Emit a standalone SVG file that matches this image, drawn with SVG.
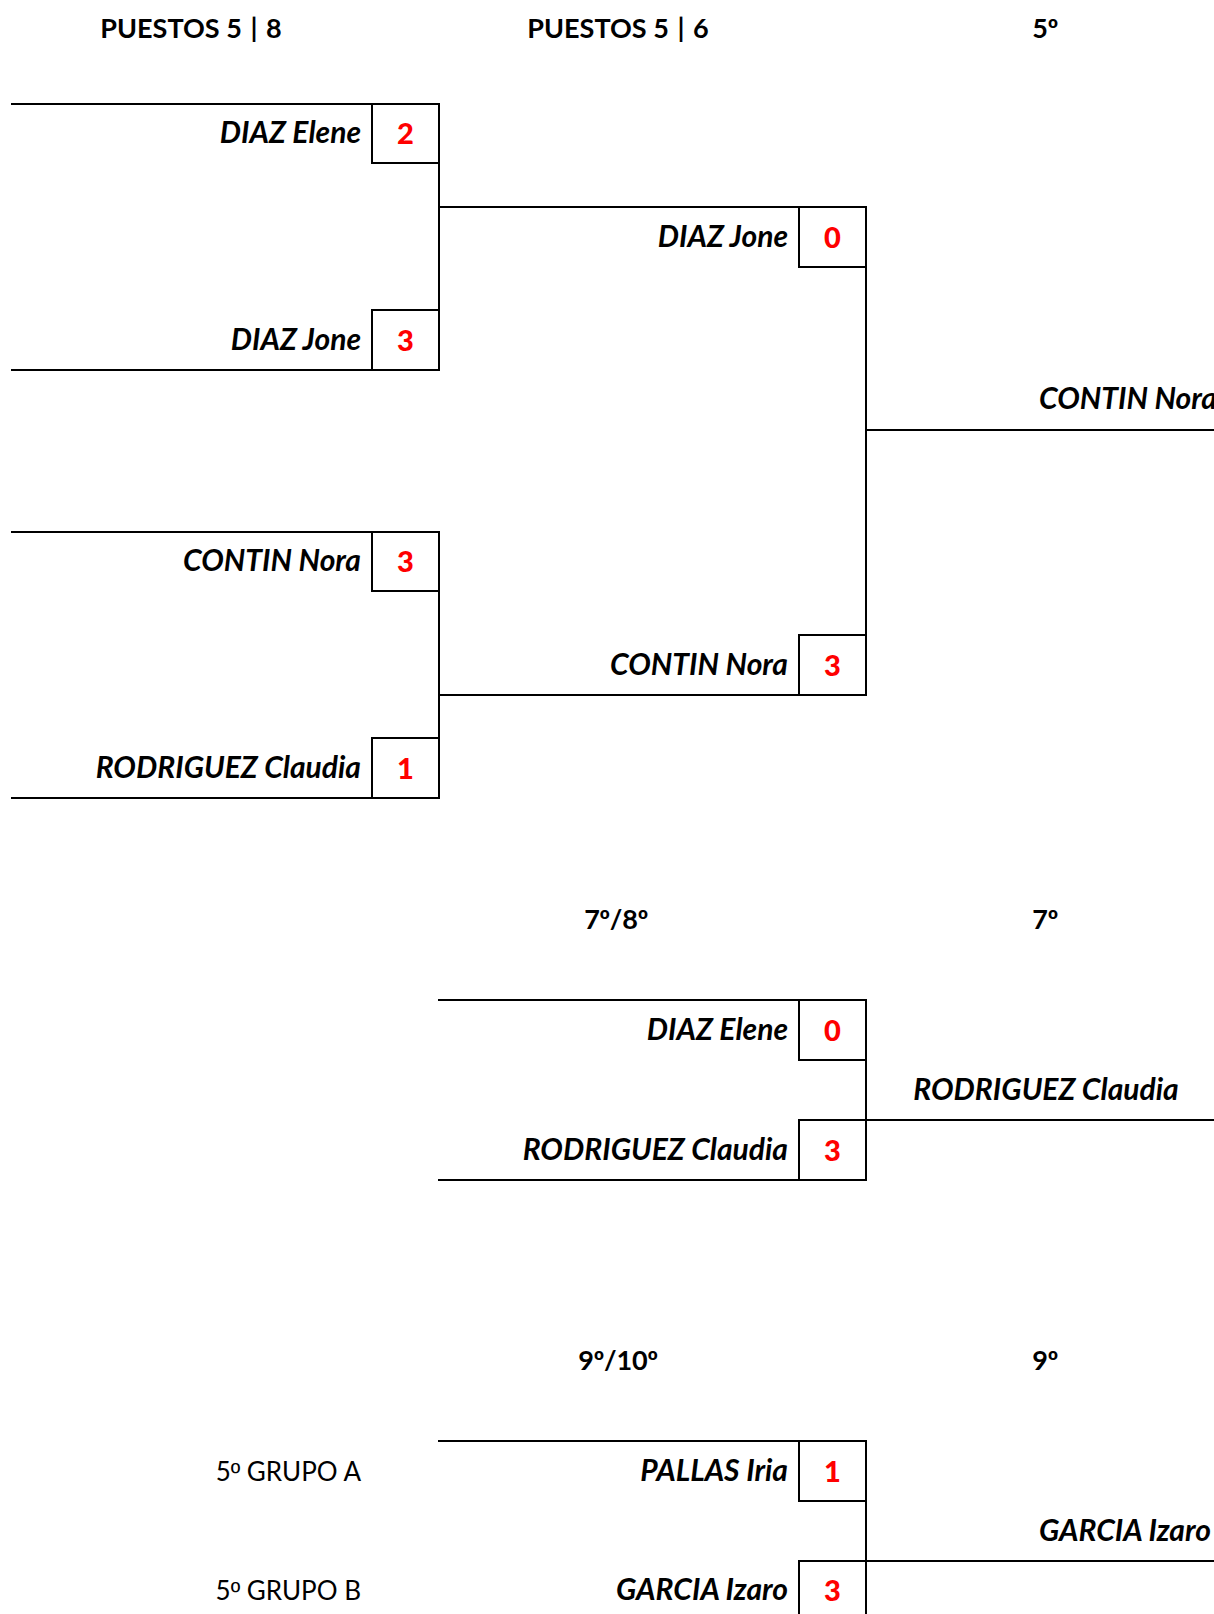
<svg xmlns="http://www.w3.org/2000/svg" width="1214" height="1614" viewBox="0 0 1214 1614">
<style>
.ln{stroke:#000;stroke-width:2;fill:none;stroke-linecap:square}
.bx{stroke:#000;stroke-width:2;fill:none}
.hd{font-family:Lato,'Liberation Sans',sans-serif;font-weight:bold;font-size:27px;fill:#000;text-anchor:middle}
.nm{font-family:Lato,'Liberation Sans',sans-serif;font-weight:bold;font-style:italic;font-size:30px;fill:#000;text-anchor:end}
.nl{font-family:Lato,'Liberation Sans',sans-serif;font-weight:bold;font-style:italic;font-size:30px;fill:#000}
.sc{font-family:Lato,'Liberation Sans',sans-serif;font-weight:900;font-size:29px;fill:#f00;text-anchor:middle}
.gr{font-family:Lato,'Liberation Sans',sans-serif;font-size:26px;fill:#000;text-anchor:end}
.o{font-family:'Liberation Sans',sans-serif}
</style>
<rect width="1214" height="1614" fill="#fff"/>
<g id="headers">
<text class="hd" x="191" y="38">PUESTOS 5 <tspan dx="2">|</tspan> <tspan dx="2">8</tspan></text>
<text class="hd" x="618" y="38">PUESTOS 5 <tspan dx="2">|</tspan> <tspan dx="2">6</tspan></text>
<text class="hd" x="1045" y="38">5<tspan class="o">º</tspan></text>
<text class="hd" x="616" y="929">7<tspan class="o">º</tspan>/8<tspan class="o">º</tspan></text>
<text class="hd" x="1045" y="929">7<tspan class="o">º</tspan></text>
<text class="hd" x="618" y="1370">9<tspan class="o">º</tspan>/10<tspan class="o">º</tspan></text>
<text class="hd" x="1045" y="1370">9<tspan class="o">º</tspan></text>
</g>
<g id="connectors">
<path class="ln" d="M12 104H439V370H12"/>
<path class="ln" d="M439 207H866V695H439"/>
<path class="ln" d="M12 532H439V798H12"/>
<path class="ln" d="M866 430H1214"/>
<path class="ln" d="M439 1000H866V1180H439"/>
<path class="ln" d="M866 1120H1214"/>
<path class="ln" d="M439 1441H866V1620"/>
<path class="ln" d="M866 1561H1214"/>
</g>
<g id="r1m1a"><rect class="bx" x="372" y="104" width="67" height="59"/><text class="nm" x="361" y="143">DIAZ Elene</text><text class="sc" x="405.5" y="144">2</text></g>
<g id="r1m1b"><rect class="bx" x="372" y="310" width="67" height="60"/><text class="nm" x="361" y="350">DIAZ Jone</text><text class="sc" x="405.5" y="351">3</text></g>
<g id="r1m2a"><rect class="bx" x="372" y="532" width="67" height="59"/><text class="nm" x="361" y="571">CONTIN Nora</text><text class="sc" x="405.5" y="572">3</text></g>
<g id="r1m2b"><rect class="bx" x="372" y="738" width="67" height="60"/><text class="nm" x="361" y="778">RODRIGUEZ Claudia</text><text class="sc" x="405.5" y="779">1</text></g>
<g id="r2a"><rect class="bx" x="799" y="207" width="67" height="60"/><text class="nm" x="788" y="247">DIAZ Jone</text><text class="sc" x="832.5" y="248">0</text></g>
<g id="r2b"><rect class="bx" x="799" y="635" width="67" height="60"/><text class="nm" x="788" y="675">CONTIN Nora</text><text class="sc" x="832.5" y="676">3</text></g>
<g id="w5"><text class="nl" x="1039" y="409">CONTIN Nora</text></g>
<g id="m78a"><rect class="bx" x="799" y="1000" width="67" height="60"/><text class="nm" x="788" y="1040">DIAZ Elene</text><text class="sc" x="832.5" y="1041">0</text></g>
<g id="m78b"><rect class="bx" x="799" y="1120" width="67" height="60"/><text class="nm" x="788" y="1160">RODRIGUEZ Claudia</text><text class="sc" x="832.5" y="1161">3</text></g>
<g id="w7"><text class="nl" x="1046" y="1100" text-anchor="middle">RODRIGUEZ Claudia</text></g>
<g id="g5a"><text class="gr" x="361" y="1481">5<tspan class="o">º</tspan> GRUPO A</text></g>
<g id="g5b"><text class="gr" x="361" y="1600">5<tspan class="o">º</tspan> GRUPO B</text></g>
<g id="m910a"><rect class="bx" x="799" y="1441" width="67" height="60"/><text class="nm" x="788" y="1481">PALLAS Iria</text><text class="sc" x="832.5" y="1482">1</text></g>
<g id="m910b"><rect class="bx" x="799" y="1561" width="67" height="60"/><text class="nm" x="788" y="1600">GARCIA Izaro</text><text class="sc" x="832.5" y="1601">3</text></g>
<g id="w9"><text class="nl" x="1039" y="1541">GARCIA Izaro</text></g>
</svg>
